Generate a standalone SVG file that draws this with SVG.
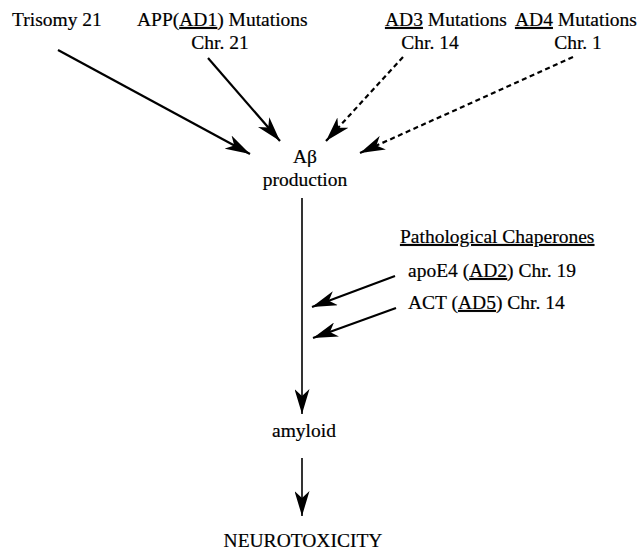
<svg xmlns="http://www.w3.org/2000/svg" width="641" height="554" viewBox="0 0 641 554">
  <style>
    text { font-family: "Liberation Serif", "Times New Roman", serif; font-size: 19.5px; fill: #000; stroke: #000; stroke-width: 0.2; }
    .mid { text-anchor: middle; }
    .u { text-decoration: underline; }
    .solid { stroke: #000; stroke-width: 2.2; fill: none; marker-end: url(#ah); }
    .thin { stroke: #000; stroke-width: 1.6; fill: none; marker-end: url(#ah); }
    .dash { stroke: #000; stroke-width: 2.2; fill: none; stroke-dasharray: 5 3.5; marker-end: url(#ah); }
  </style>
  <defs>
    <marker id="ah" viewBox="0 0 25 15" refX="25" refY="7.5" markerWidth="25" markerHeight="15" markerUnits="userSpaceOnUse" orient="auto">
      <path d="M0,0 L25,7.5 L0,15 L7,7.5 Z" fill="#000"/>
    </marker>
  </defs>
  <rect width="641" height="554" fill="#fff"/>

  <g id="connectors">
    <line class="solid" x1="58" y1="50" x2="250" y2="154"/>
    <line class="solid" x1="208" y1="58" x2="280" y2="141"/>
    <line class="dash" x1="403" y1="57" x2="326" y2="141"/>
    <line class="dash" x1="573" y1="57" x2="360" y2="153"/>
    <line class="thin" x1="302" y1="198" x2="302" y2="414"/>
    <line class="thin" x1="302" y1="458" x2="302" y2="516"/>
    <line class="solid" x1="395" y1="276" x2="312" y2="307"/>
    <line class="solid" x1="396" y1="308" x2="313" y2="338"/>
  </g>

  <g id="trisomy">
    <text x="12" y="26">Trisomy 21</text>
  </g>
  <g id="app">
    <text x="137" y="26">APP(<tspan class="u">AD1</tspan>) Mutations</text>
    <text class="mid" x="220" y="49">Chr. 21</text>
  </g>
  <g id="ad3">
    <text x="385" y="26"><tspan class="u">AD3</tspan> Mutations</text>
    <text class="mid" x="430" y="49">Chr. 14</text>
  </g>
  <g id="ad4">
    <text x="515" y="26"><tspan class="u">AD4</tspan> Mutations</text>
    <text class="mid" x="578" y="49">Chr. 1</text>
  </g>
  <g id="abeta">
    <text class="mid" x="305" y="163">Aβ</text>
    <text class="mid" x="305" y="186">production</text>
  </g>
  <g id="chaperones">
    <text class="u" x="400" y="243">Pathological Chaperones</text>
    <text x="408" y="277">apoE4 (<tspan class="u">AD2</tspan>) Chr. 19</text>
    <text x="408" y="309">ACT (<tspan class="u">AD5</tspan>) Chr. 14</text>
  </g>
  <g id="amyloid">
    <text class="mid" x="304" y="437">amyloid</text>
  </g>
  <g id="neurotoxicity">
    <text class="mid" x="303" y="547">NEUROTOXICITY</text>
  </g>
</svg>
